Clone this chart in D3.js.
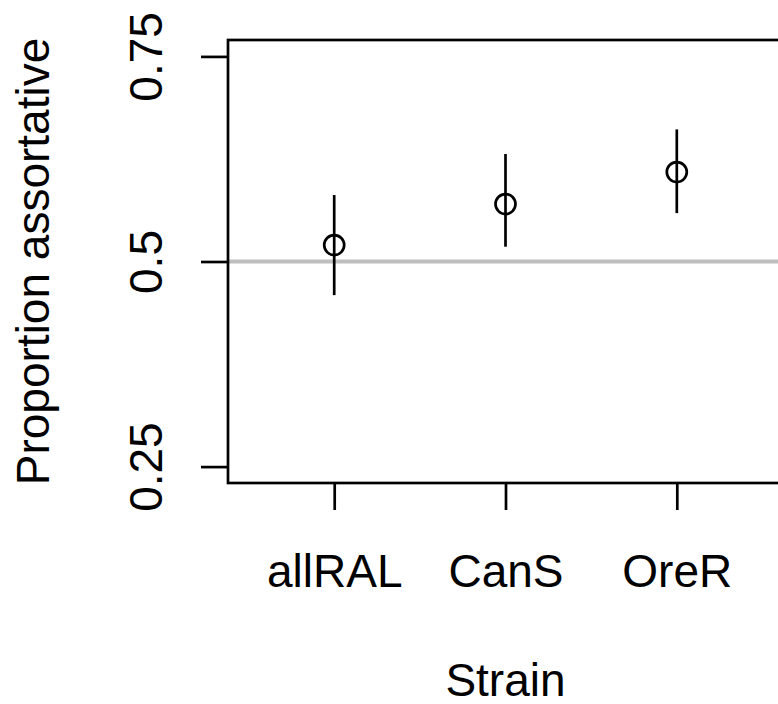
<!DOCTYPE html>
<html>
<head>
<meta charset="utf-8">
<script src="https://cdn.jsdelivr.net/npm/d3@7"></script>
<style>
  body { margin: 0; background: #fff; }
  svg { display: block; }
  text { font-family: "Liberation Sans", Arial, Helvetica, sans-serif; fill: #000; }
</style>
</head>
<body>
<svg width="778" height="704"></svg>
<script>
// data
var strains = ["allRAL", "CanS", "OreR"];
var propMean = [0.520, 0.570, 0.609];
var ciLower = [0.459, 0.518, 0.559];
var ciUpper = [0.581, 0.631, 0.661];
var yTicks = [0.25, 0.5, 0.75];
var yTickLabels = ["0.25", "0.5", "0.75"];
var nullLine = 0.5;

function drawPlot() {
    var svg = d3.select("svg");

    var plotLeft = 228, plotRight = 783, plotTop = 40, plotBottom = 483;
    var fontSize = 46;

    // R-style 4% padding around xlim = c(0.5, 3.5), ylim = c(0.25, 0.75)
    var x = d3.scaleLinear().domain([0.38, 3.62]).range([plotLeft, plotRight]);
    var y = d3.scaleLinear().domain([0.23, 0.77]).range([plotBottom, plotTop]);

    // reference line at 0.5
    svg.append("line")
        .attr("x1", plotLeft).attr("x2", plotRight)
        .attr("y1", y(nullLine)).attr("y2", y(nullLine))
        .attr("stroke", "#bebebe")
        .attr("stroke-width", 4);

    // y axis
    var yAxis = svg.append("g")
        .attr("transform", "translate(" + plotLeft + ",0)")
        .call(d3.axisLeft(y)
            .tickValues(yTicks)
            .tickSize(27)
            .tickFormat(function (d, i) { return yTickLabels[i]; }));
    yAxis.select(".domain").remove();
    yAxis.selectAll("line").attr("stroke", "#000").attr("stroke-width", 2.7);
    yAxis.selectAll("text")
        .attr("transform", "rotate(-90)")
        .attr("x", 0).attr("y", -66).attr("dy", 0)
        .attr("text-anchor", "middle")
        .style("font-size", fontSize + "px")
        .style("font-family", "Liberation Sans, Arial, sans-serif")
        .attr("fill", "#000");

    // x axis
    var xAxis = svg.append("g")
        .attr("transform", "translate(0," + plotBottom + ")")
        .call(d3.axisBottom(x)
            .tickValues([1, 2, 3])
            .tickSize(27)
            .tickFormat(function (d, i) { return strains[i]; }));
    xAxis.select(".domain").remove();
    xAxis.selectAll("line").attr("stroke", "#000").attr("stroke-width", 2.7);
    xAxis.selectAll("text")
        .attr("y", 104).attr("dy", 0)
        .attr("text-anchor", "middle")
        .style("font-size", fontSize + "px")
        .style("font-family", "Liberation Sans, Arial, sans-serif")
        .attr("fill", "#000");

    // plot box
    svg.append("rect")
        .attr("x", plotLeft).attr("y", plotTop)
        .attr("width", plotRight - plotLeft).attr("height", plotBottom - plotTop)
        .attr("fill", "none")
        .attr("stroke", "#000")
        .attr("stroke-width", 2.7);

    // error bars
    svg.append("g").selectAll("line")
        .data(strains)
        .enter().append("line")
        .attr("x1", function (d, i) { return x(i + 1); })
        .attr("x2", function (d, i) { return x(i + 1); })
        .attr("y1", function (d, i) { return y(ciLower[i]); })
        .attr("y2", function (d, i) { return y(ciUpper[i]); })
        .attr("stroke", "#000")
        .attr("stroke-width", 2.7);

    // points
    svg.append("g").selectAll("circle")
        .data(strains)
        .enter().append("circle")
        .attr("cx", function (d, i) { return x(i + 1); })
        .attr("cy", function (d, i) { return y(propMean[i]); })
        .attr("r", 10)
        .attr("fill", "none")
        .attr("stroke", "#000")
        .attr("stroke-width", 2.7);

    // axis titles
    svg.append("text")
        .attr("x", (plotLeft + plotRight) / 2)
        .attr("y", 696)
        .attr("text-anchor", "middle")
        .style("font-size", fontSize + "px")
        .text("Strain");

    svg.append("text")
        .attr("transform", "translate(49," + (plotTop + plotBottom) / 2 + ") rotate(-90)")
        .attr("text-anchor", "middle")
        .style("font-size", fontSize + "px")
        .text("Proportion assortative");
}

drawPlot();
</script>
</body>
</html>
